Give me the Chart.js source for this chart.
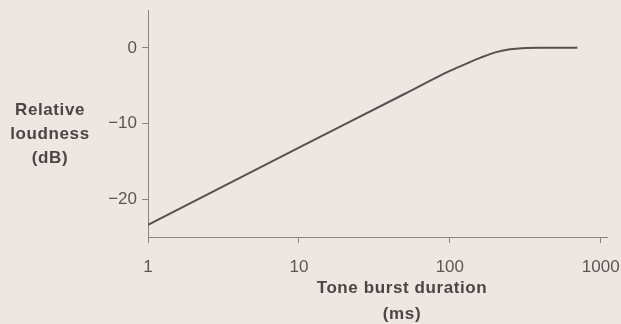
<!DOCTYPE html>
<html>
<head>
<meta charset="utf-8">
<script src="https://cdn.jsdelivr.net/npm/chart.js@4"></script>
<style>
  html, body { margin: 0; padding: 0; background: #ede6e1; }
  #wrap { width: 621px; height: 324px; }
</style>
</head>
<body>
<div id="wrap"><canvas id="loudnessChart" width="621" height="324"></canvas></div>
<script>
const durations = [1, 10, 50, 80, 100, 130, 160, 200, 250, 300, 400, 700];
const loudness = [-23.4, -13.2, -6.1, -4.0, -3.05, -2.05, -1.3, -0.6, -0.2, -0.04, 0, 0];
const xTicks = [1, 10, 100, 1000];
const yTicks = [0, -10, -20];
const yTitle = ['Relative', 'loudness', '(dB)'];
const xTitle = ['Tone burst duration', '(ms)'];

const textColor = '#4e4448';
const tickColor = '#5a5655';
const axisColor = '#8c8483';

const titlesPlugin = {
    id: 'titles',
    beforeDraw(chart) {
        const ctx = chart.ctx;
        ctx.save();
        ctx.fillStyle = '#ede6e1';
        ctx.fillRect(0, 0, chart.width, chart.height);
        ctx.restore();
    },
    afterDraw(chart) {
        const ctx = chart.ctx;
        ctx.save();
        ctx.fillStyle = textColor;
        ctx.font = 'bold 17px "Liberation Sans", Arial, sans-serif';
        ctx.letterSpacing = '0.6px';
        ctx.textAlign = 'center';
        ctx.textBaseline = 'middle';
        yTitle.forEach((t, i) => ctx.fillText(t, 50, 110 + i * 24));
        xTitle.forEach((t, i) => ctx.fillText(t, 402, 288 + i * 26));
        ctx.restore();
    }
};

new Chart(document.getElementById('loudnessChart').getContext('2d'), {
    type: 'line',
    data: {
        datasets: [{
            data: durations.map((d, i) => ({ x: d, y: loudness[i] })),
            borderColor: '#5a4f52',
            borderWidth: 2,
            pointRadius: 0,
            cubicInterpolationMode: 'monotone',
            fill: false
        }]
    },
    options: {
        responsive: false,
        animation: false,
        layout: { padding: { top: 10, right: 14, left: 0, bottom: 0 } },
        plugins: {
            legend: { display: false },
            tooltip: { enabled: false }
        },
        scales: {
            x: {
                type: 'logarithmic',
                min: 1,
                max: 1100,
                afterBuildTicks: scale => { scale.ticks = xTicks.map(v => ({ value: v })); },
                afterFit: scale => {
                    scale.height = 87;
                    scale.paddingLeft = 0;
                    scale.paddingRight = 0;
                },
                grid: { drawOnChartArea: false, drawTicks: true, tickLength: 6, color: axisColor },
                border: { display: true, color: axisColor, width: 1 },
                ticks: {
                    color: tickColor,
                    padding: 14,
                    maxRotation: 0,
                    autoSkip: false,
                    font: { family: '"Liberation Sans", Arial, sans-serif', size: 17 },
                    callback: v => String(v)
                }
            },
            y: {
                min: -25,
                max: 5,
                afterBuildTicks: scale => { scale.ticks = yTicks.map(v => ({ value: v })); },
                afterFit: scale => {
                    scale.width = 148;
                    scale.paddingTop = 0;
                    scale.paddingBottom = 0;
                },
                grid: { drawOnChartArea: false, drawTicks: true, tickLength: 6, color: axisColor },
                border: { display: true, color: axisColor, width: 1 },
                ticks: {
                    color: tickColor,
                    padding: 5,
                    font: { family: '"Liberation Sans", Arial, sans-serif', size: 17 },
                    callback: v => v < 0 ? '\u2212' + Math.abs(v) : String(v)
                }
            }
        }
    },
    plugins: [titlesPlugin]
});
</script>
</body>
</html>
